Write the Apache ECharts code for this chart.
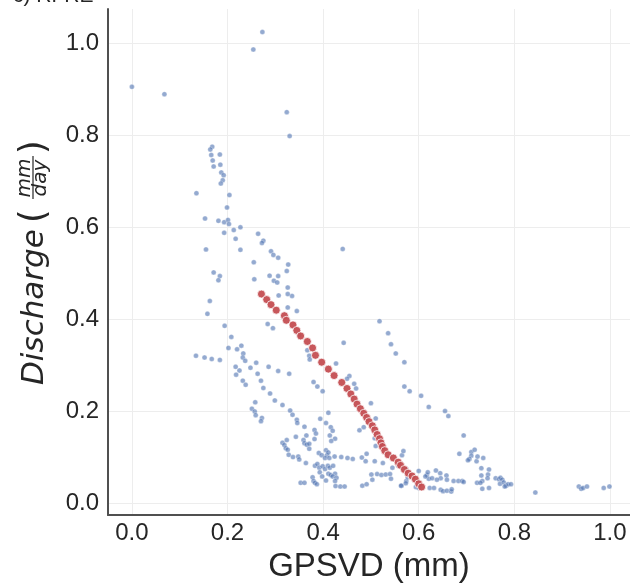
<!DOCTYPE html>
<html>
<head>
<meta charset="utf-8">
<script src="https://cdn.jsdelivr.net/npm/echarts@6/dist/echarts.min.js"></script>
<style>
  html, body { margin: 0; padding: 0; background: #fff; }
  #chart { width: 630px; height: 588px; }
</style>
</head>
<body>
<div id="chart"></div>
<script>
// tick values shown on both axes
const xTicks = [0.0, 0.2, 0.4, 0.6, 0.8, 1.0];
const yTicks = [0.0, 0.2, 0.4, 0.6, 0.8, 1.0];

const observedPoints = [
  [0.000, 0.905], [0.068, 0.889], [0.254, 0.986], [0.273, 1.024], [0.324, 0.850], [0.330, 0.798],
  [0.168, 0.775], [0.164, 0.769], [0.166, 0.757], [0.184, 0.758], [0.169, 0.745], [0.171, 0.732],
  [0.185, 0.736], [0.187, 0.719], [0.192, 0.713], [0.190, 0.702], [0.186, 0.695], [0.135, 0.674],
  [0.204, 0.670], [0.199, 0.643], [0.153, 0.619], [0.181, 0.614], [0.193, 0.611], [0.201, 0.616],
  [0.203, 0.607], [0.193, 0.588], [0.213, 0.594], [0.227, 0.600], [0.217, 0.575], [0.264, 0.586],
  [0.275, 0.571], [0.272, 0.566], [0.155, 0.552], [0.227, 0.551], [0.291, 0.548], [0.296, 0.540],
  [0.306, 0.534], [0.441, 0.553], [0.255, 0.524], [0.327, 0.519], [0.324, 0.505], [0.171, 0.502],
  [0.184, 0.494], [0.181, 0.485], [0.256, 0.487], [0.288, 0.495], [0.306, 0.494], [0.297, 0.484],
  [0.304, 0.480], [0.326, 0.469], [0.307, 0.452], [0.335, 0.451], [0.326, 0.455], [0.163, 0.440],
  [0.158, 0.412], [0.345, 0.418], [0.326, 0.426], [0.194, 0.386], [0.284, 0.390], [0.295, 0.381],
  [0.208, 0.362], [0.350, 0.366], [0.202, 0.338], [0.220, 0.335], [0.229, 0.343], [0.233, 0.326],
  [0.232, 0.317], [0.237, 0.310], [0.152, 0.317], [0.167, 0.314], [0.184, 0.312], [0.134, 0.321],
  [0.260, 0.306], [0.248, 0.295], [0.286, 0.297], [0.306, 0.288], [0.329, 0.282], [0.217, 0.297],
  [0.225, 0.289], [0.218, 0.280], [0.263, 0.282], [0.232, 0.267], [0.238, 0.258], [0.270, 0.267],
  [0.275, 0.251], [0.367, 0.333], [0.371, 0.321], [0.372, 0.313], [0.427, 0.304], [0.443, 0.349],
  [0.518, 0.396], [0.536, 0.370], [0.542, 0.346], [0.552, 0.326], [0.570, 0.307], [0.570, 0.254],
  [0.581, 0.244], [0.605, 0.234], [0.621, 0.210], [0.455, 0.277], [0.450, 0.271], [0.465, 0.260],
  [0.469, 0.250], [0.380, 0.264], [0.388, 0.254], [0.399, 0.244], [0.289, 0.239], [0.299, 0.224],
  [0.258, 0.220], [0.315, 0.214], [0.251, 0.206], [0.257, 0.200], [0.259, 0.192], [0.272, 0.186],
  [0.270, 0.179], [0.331, 0.202], [0.336, 0.193], [0.345, 0.182], [0.346, 0.175], [0.411, 0.197],
  [0.394, 0.184], [0.406, 0.175], [0.416, 0.166], [0.361, 0.167], [0.382, 0.160], [0.385, 0.152],
  [0.382, 0.140], [0.414, 0.148], [0.425, 0.141], [0.343, 0.145], [0.365, 0.148], [0.500, 0.218],
  [0.510, 0.185], [0.476, 0.159], [0.485, 0.166], [0.508, 0.142], [0.315, 0.132], [0.319, 0.127],
  [0.322, 0.120], [0.326, 0.117], [0.324, 0.138], [0.328, 0.106], [0.337, 0.101], [0.348, 0.102],
  [0.350, 0.096], [0.359, 0.138], [0.361, 0.131], [0.366, 0.128], [0.371, 0.130], [0.364, 0.088],
  [0.371, 0.119], [0.391, 0.110], [0.397, 0.105], [0.408, 0.105], [0.404, 0.099], [0.413, 0.099],
  [0.424, 0.102], [0.438, 0.101], [0.451, 0.099], [0.462, 0.097], [0.481, 0.100], [0.489, 0.092],
  [0.491, 0.108], [0.508, 0.092], [0.525, 0.088], [0.383, 0.082], [0.388, 0.086], [0.392, 0.078],
  [0.399, 0.081], [0.404, 0.075], [0.410, 0.082], [0.414, 0.078], [0.421, 0.082], [0.411, 0.065],
  [0.416, 0.062], [0.425, 0.065], [0.420, 0.059], [0.428, 0.056], [0.425, 0.049], [0.353, 0.045],
  [0.361, 0.045], [0.378, 0.057], [0.380, 0.049], [0.383, 0.045], [0.387, 0.042], [0.393, 0.068],
  [0.398, 0.059], [0.406, 0.050], [0.426, 0.038], [0.436, 0.037], [0.445, 0.037], [0.482, 0.039],
  [0.491, 0.042], [0.501, 0.063], [0.513, 0.064], [0.522, 0.062], [0.531, 0.063], [0.540, 0.064],
  [0.545, 0.078], [0.564, 0.039], [0.574, 0.049], [0.600, 0.071], [0.617, 0.062], [0.621, 0.054],
  [0.510, 0.125], [0.420, 0.158], [0.417, 0.136], [0.406, 0.116], [0.411, 0.111], [0.557, 0.082],
  [0.565, 0.105], [0.568, 0.114], [0.503, 0.052], [0.542, 0.054], [0.655, 0.201], [0.662, 0.190],
  [0.694, 0.148], [0.685, 0.108], [0.710, 0.112], [0.717, 0.117], [0.710, 0.104], [0.706, 0.097],
  [0.703, 0.094], [0.721, 0.092], [0.723, 0.102], [0.735, 0.099], [0.731, 0.077], [0.747, 0.074],
  [0.745, 0.063], [0.744, 0.055], [0.731, 0.061], [0.733, 0.049], [0.722, 0.045], [0.729, 0.045],
  [0.733, 0.032], [0.747, 0.034], [0.761, 0.055], [0.768, 0.053], [0.771, 0.056], [0.775, 0.052],
  [0.770, 0.043], [0.778, 0.046], [0.783, 0.039], [0.787, 0.042], [0.793, 0.042], [0.780, 0.037],
  [0.619, 0.068], [0.614, 0.059], [0.628, 0.055], [0.636, 0.072], [0.645, 0.066], [0.646, 0.055],
  [0.658, 0.061], [0.659, 0.052], [0.638, 0.052], [0.673, 0.049], [0.683, 0.049], [0.691, 0.049],
  [0.694, 0.047], [0.574, 0.075], [0.577, 0.057], [0.573, 0.044], [0.563, 0.039], [0.594, 0.036],
  [0.600, 0.034], [0.623, 0.034], [0.632, 0.034], [0.646, 0.030], [0.651, 0.027], [0.659, 0.028],
  [0.668, 0.026], [0.669, 0.031], [0.844, 0.024], [0.935, 0.037], [0.940, 0.032], [0.944, 0.034],
  [0.952, 0.037], [0.987, 0.034], [0.999, 0.037]
];

// model curve (red)
const predictedPoints = [
  [0.271, 0.455], [0.282, 0.443], [0.291, 0.432], [0.302, 0.420], [0.319, 0.408], [0.323, 0.398],
  [0.337, 0.388], [0.345, 0.376], [0.353, 0.364], [0.367, 0.352], [0.378, 0.338], [0.384, 0.322],
  [0.397, 0.307], [0.411, 0.292], [0.423, 0.278], [0.439, 0.263], [0.450, 0.250], [0.458, 0.238],
  [0.465, 0.227], [0.471, 0.216], [0.478, 0.206], [0.485, 0.196], [0.491, 0.187], [0.496, 0.178],
  [0.503, 0.169], [0.508, 0.160], [0.513, 0.150], [0.518, 0.141], [0.521, 0.132], [0.524, 0.124],
  [0.529, 0.115], [0.536, 0.106], [0.547, 0.099], [0.557, 0.090], [0.562, 0.083], [0.570, 0.074],
  [0.578, 0.066], [0.586, 0.060], [0.593, 0.053], [0.600, 0.043], [0.606, 0.036]
];

const labelFont = 'Liberation Sans';
const textColor = '#262626';

let chartDOM = document.getElementById('chart');
let chart = echarts.init(chartDOM, null, { renderer: 'canvas' });

const option = {
    animation: false,
    grid: { left: 108, right: 0, top: 9, bottom: 68 },
    xAxis: {
        type: 'value',
        min: -0.05,
        max: 1.042,
        name: 'GPSVD (mm)',
        nameLocation: 'middle',
        nameGap: 32,
        nameTextStyle: { fontFamily: labelFont, fontSize: 33, color: textColor },
        axisLine: { show: true, onZero: false, lineStyle: { color: '#505050', width: 2 } },
        axisTick: { show: false, customValues: xTicks },
        axisLabel: {
            customValues: xTicks,
            formatter: v => v.toFixed(1),
            fontFamily: labelFont, fontSize: 24, color: textColor, margin: 6
        },
        splitLine: { show: true, lineStyle: { color: '#ededed', width: 1 } }
    },
    yAxis: {
        type: 'value',
        min: -0.025,
        max: 1.074,
        axisLine: { show: true, onZero: false, lineStyle: { color: '#505050', width: 2 } },
        axisTick: { show: false, customValues: yTicks },
        axisLabel: {
            customValues: yTicks,
            formatter: v => v.toFixed(1),
            fontFamily: labelFont, fontSize: 24, color: textColor, margin: 9
        },
        splitLine: { show: true, lineStyle: { color: '#ededed', width: 1 } }
    },
    graphic: [
        {
            // panel title, mostly cut off by the top edge
            type: 'text', x: 13, y: -4,
            style: { text: 'c) RFRE', font: '21px "Liberation Sans"', fill: textColor, verticalAlign: 'middle' }
        },
        {
            // y axis title: Discharge (mm/day)
            type: 'group', x: 44, y: 385, rotation: Math.PI / 2,
            children: [
                { type: 'text', x: 0, y: -9.3,
                  style: { text: 'Discharge', font: 'italic 31px "DejaVu Sans"', fill: textColor, verticalAlign: 'middle', align: 'left' } },
                { type: 'text', x: 162, y: -9.5,
                  style: { text: '(', font: '35px "DejaVu Sans"', fill: textColor, verticalAlign: 'middle', align: 'left' } },
                { type: 'text', x: 207, y: -19.5,
                  style: { text: 'mm', font: 'italic 20px "DejaVu Sans"', fill: textColor, verticalAlign: 'middle', align: 'center' } },
                { type: 'line', shape: { x1: 186, y1: -11, x2: 229, y2: -11 },
                  style: { stroke: textColor, lineWidth: 1.2 } },
                { type: 'text', x: 207, y: -3,
                  style: { text: 'day', font: 'italic 20px "DejaVu Sans"', fill: textColor, verticalAlign: 'middle', align: 'center' } },
                { type: 'text', x: 231, y: -9.5,
                  style: { text: ')', font: '35px "DejaVu Sans"', fill: textColor, verticalAlign: 'middle', align: 'left' } }
            ]
        }
    ],
    series: [
        {
            type: 'scatter',
            data: observedPoints,
            symbolSize: 5,
            silent: true,
            itemStyle: { color: '#4C72B0', opacity: 0.6, borderColor: '#ffffff', borderWidth: 0.5 },
            z: 2
        },
        {
            type: 'scatter',
            data: predictedPoints,
            symbolSize: 8,
            silent: true,
            itemStyle: { color: '#C44E52', opacity: 0.95, borderColor: '#ffffff', borderWidth: 0.8 },
            z: 3
        }
    ]
};

chart.setOption(option);
</script>
</body>
</html>
